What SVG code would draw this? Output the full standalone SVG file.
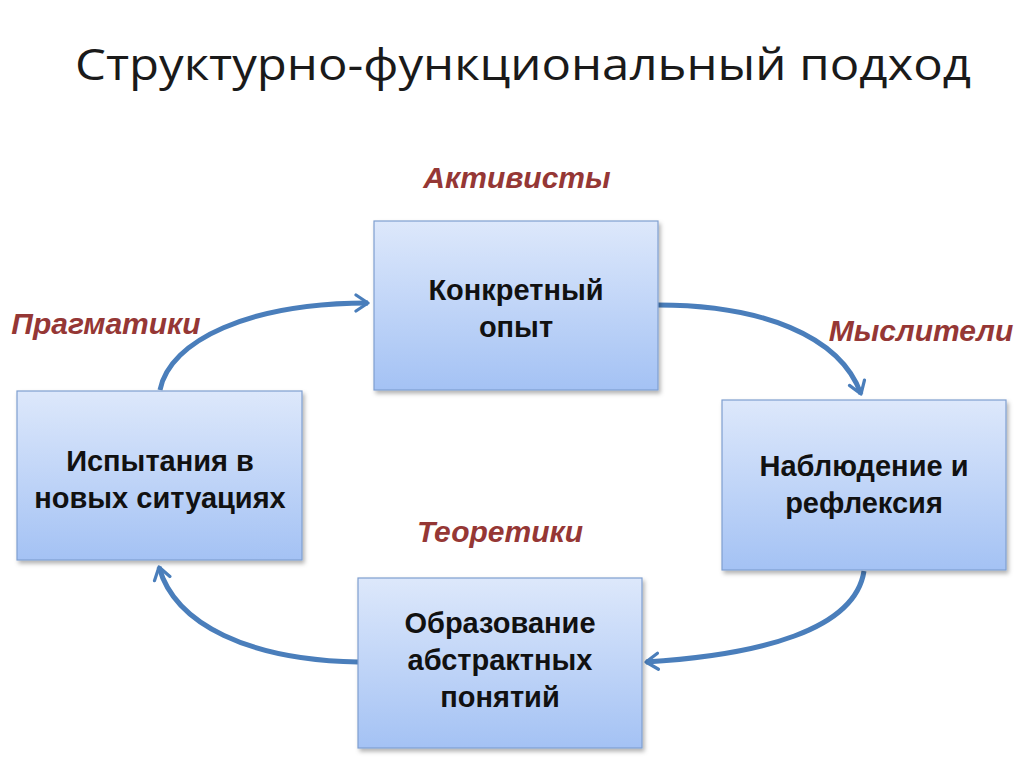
<svg xmlns="http://www.w3.org/2000/svg" width="1024" height="767" viewBox="0 0 1024 767">
<defs>
<linearGradient id="g" x1="0" y1="0" x2="0" y2="1">
<stop offset="0" stop-color="#dde8fb"/>
<stop offset="1" stop-color="#a4c2f4"/>
</linearGradient>
<filter id="sh" x="-10%" y="-10%" width="120%" height="130%">
<feDropShadow dx="2" dy="3" stdDeviation="2" flood-color="#000" flood-opacity="0.3"/>
</filter>
<marker id="ah" viewBox="0 0 10 10" refX="7" refY="5" markerWidth="4" markerHeight="4" orient="auto" markerUnits="strokeWidth">
<polyline points="1,1 7,5 1,9" fill="none" stroke="#4a7ebb" stroke-width="1.6" stroke-linecap="round" stroke-linejoin="round"/>
</marker>
<style>
.box{fill:url(#g);stroke:#7f9fd0;stroke-width:1.2;filter:url(#sh)}
.nt{font-family:"Liberation Sans",Arial,sans-serif;font-weight:bold;font-size:29px;fill:#111;text-anchor:middle}
.lb{font-family:"Liberation Sans",Arial,sans-serif;font-weight:bold;font-style:italic;font-size:30px;fill:#953735;text-anchor:middle}
.cn{fill:none;stroke:#4a7ebb;stroke-width:5;marker-end:url(#ah)}
</style>
</defs>
<rect width="1024" height="767" fill="#fff"/>
<text x="523" y="80" font-family="'Open Sans',sans-serif" font-size="44" fill="#1a1a1a" text-anchor="middle" textLength="896" lengthAdjust="spacingAndGlyphs">Структурно-функциональный подход</text>
<g id="connectors">
<path class="cn" d="M160,390 C170,340 250,303 368,303"/>
<path class="cn" d="M658,305 C760,305 840,335 861,394"/>
<path class="cn" d="M864,571 C855,630 760,655 646,662"/>
<path class="cn" d="M358,662 C250,660 175,625 159,567"/>
</g>
<g id="labels">
<text class="lb" x="517" y="188">Активисты</text>
<text class="lb" x="106" y="334">Прагматики</text>
<text class="lb" x="921" y="341">Мыслители</text>
<text class="lb" x="500" y="542">Теоретики</text>
</g>
<g id="n_top">
<rect class="box" x="374" y="221" width="284" height="169"/>
<text class="nt" x="516" y="300">Конкретный</text>
<text class="nt" x="516" y="337">опыт</text>
</g>
<g id="n_left">
<rect class="box" x="17" y="391" width="285" height="169"/>
<text class="nt" x="160" y="471">Испытания в</text>
<text class="nt" x="160" y="508">новых ситуациях</text>
</g>
<g id="n_right">
<rect class="box" x="722" y="400" width="284" height="170"/>
<text class="nt" x="864" y="476">Наблюдение и</text>
<text class="nt" x="864" y="513">рефлексия</text>
</g>
<g id="n_bottom">
<rect class="box" x="358" y="578" width="284" height="170"/>
<text class="nt" x="500" y="633">Образование</text>
<text class="nt" x="500" y="670">абстрактных</text>
<text class="nt" x="500" y="707">понятий</text>
</g>
</svg>
